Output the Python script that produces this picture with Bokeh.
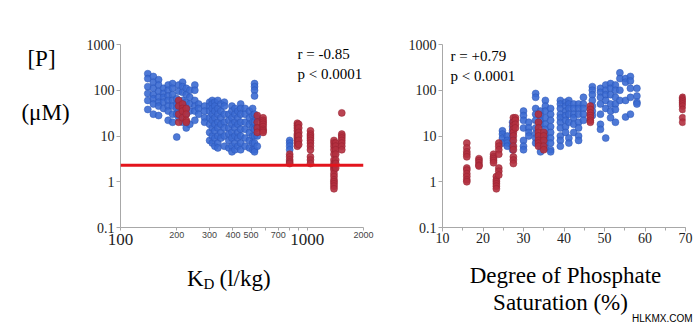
from bokeh.plotting import figure
from bokeh.layouts import row, column
from bokeh.models import (Range1d, FixedTicker, SingleIntervalTicker, CustomJSTickFormatter,
                          Span, Label, LogAxis)
from bokeh.embed import file_html
from bokeh.resources import INLINE

# ---------------- data ----------------
# Left panel: K_D (l/kg) vs [P] (uM); each x column with its y values
kd_blue_cols = [140, 150, 160, 170, 180, 190, 200, 205, 215, 225, 235, 250, 262, 282,
                300, 310, 320, 332, 345, 360, 380, 395, 410, 425, 440, 465, 490, 510,
                522, 540, 805]
p_blue_cols = [
    [230, 180, 120, 85, 60, 38],
    [200, 150, 110, 80, 65, 50, 30],
    [170, 130, 95, 70, 55, 45, 28],
    [110, 85, 70, 55, 40],
    [130, 100, 75, 60, 45, 35, 22],
    [140, 110, 80, 60, 45, 30, 20],
    [65, 50, 40, 30, 9.5],
    [130, 95, 55, 35, 25],
    [150, 120, 90, 60, 45, 30, 20],
    [110, 80, 55, 40, 30, 15],
    [100, 70, 50, 35, 18],
    [130, 100, 60, 45, 35, 22],
    [50, 40, 30],
    [45, 35, 25, 20],
    [55, 45, 35, 25, 18, 12, 8],
    [60, 50, 40, 30, 22, 15, 10, 7],
    [55, 45, 35, 25, 18, 13, 9, 6],
    [60, 40, 30, 20, 15, 10, 7, 5.5],
    [50, 35, 25, 18, 12, 9],
    [55, 45, 30, 20, 15, 10, 6],
    [30, 22, 15, 11, 8, 5.5],
    [45, 35, 25, 18, 12, 9, 6, 4.5],
    [40, 30, 20, 15, 10, 7, 5],
    [35, 25, 18, 12, 9, 6],
    [50, 40, 30, 20, 14, 10, 7, 5],
    [40, 30, 20, 14, 9, 6],
    [35, 25, 18, 12, 8, 5.5],
    [40, 28, 20, 15, 10, 7, 5],
    [140, 120, 100, 75, 30, 20, 14, 10, 7, 5, 4.5],
    [25, 15, 10, 6],
    [8, 7, 6, 5],
]
kd_red_cols = [205, 215, 225, 540, 580, 805, 885, 900, 1040, 1390, 1420, 1530]
p_red_cols = [
    [60, 45, 30, 20],
    [50, 40, 35, 25],
    [40, 30, 22, 20],
    [28, 20, 15, 12],
    [25, 22, 20, 18, 16, 14, 13, 12],
    [4, 3.5, 3, 2.7, 2.5],
    [19, 17, 15, 13, 11, 10, 9, 8, 7, 6],
    [18, 15, 12, 10, 8, 6.5],
    [13, 11, 10, 9, 8, 7, 6, 5, 3.5, 3, 2.5],
    [8, 7, 6, 5, 4, 3, 2.5, 2.2, 2, 1.8, 1.5, 1.3, 1.1, 1, 0.9, 0.8, 0.7],
    [7, 6, 5, 4, 3, 2.5, 2],
    [32, 11, 10, 9, 8, 7, 6, 5],
]
p_threshold = 2.3

# Right panel: Degree of Phosphate Saturation (%) vs [P] (uM)
dps_blue_cols = [24.8, 26, 27.3, 30, 31.3, 33, 34.2, 35.4, 36.7, 39.1, 40.4, 41.2, 42.4,
                 43.6, 44.8, 47, 49, 50.3, 51.5, 52.7, 53.8, 55.2, 56.4, 58]
p2_blue_cols = [
    [13, 11, 9, 7],
    [10, 8, 7, 6],
    [20, 16, 13, 11, 9, 7, 6, 5],
    [35, 28, 22, 15, 8, 6, 5],
    [20, 15, 12, 10],
    [85, 70, 40, 30, 22, 15, 11, 9, 7],
    [35, 28, 22, 18, 10, 8, 6, 4.5],
    [60, 45, 35, 25, 18, 14, 11, 9, 7, 5.5],
    [40, 30, 22, 16, 12, 9, 7, 5, 4.5],
    [60, 50, 40, 30, 25, 20, 15, 10, 8, 6],
    [55, 45, 35, 28, 22, 16, 12],
    [60, 50, 40, 30, 20, 9, 7],
    [50, 40, 30, 25, 18, 12],
    [50, 40, 30, 20, 15, 10, 8],
    [70, 50, 40, 30, 22],
    [120, 100, 80, 60, 45, 35, 28],
    [110, 90, 70, 50, 30, 18, 14],
    [130, 100, 80, 60, 40, 9],
    [140, 110, 80, 50, 35, 25],
    [130, 100, 70, 50, 38, 20],
    [240, 180, 100, 60],
    [180, 150, 60, 26],
    [200, 160, 110, 70, 30],
    [110, 75, 55, 50],
]
dps_red_cols = [16, 19, 22.6, 23.3, 23.9, 27.5, 28, 33.7, 35, 46.5, 69.3]
p2_red_cols = [
    [7, 5.5, 4.5, 4, 3.5, 2, 1.8, 1.5, 1.3, 1.1, 1.0],
    [3.2, 2.9, 2.6, 2.3, 2.2],
    [4, 3.5, 3.2, 2.9, 2.6],
    [1.3, 1.1, 1, 0.9, 0.8, 0.7],
    [7, 6, 5, 4, 2, 1.7, 1.4],
    [25, 20, 17, 14, 12, 10, 8, 6, 5, 3.5, 3, 2.5],
    [25, 22, 18, 15],
    [30, 20, 15, 12, 10, 8, 7, 6],
    [12, 10, 8, 6, 5],
    [45, 38, 32, 28, 25, 22, 20],
    [70, 65, 60, 55, 50, 45, 38, 25, 20],
]

y_ticks = [0.1, 1, 10, 100, 1000]
kd_big_labels = [100, 1000]
kd_small_labels = [200, 300, 400, 500, 700, 2000]
kd_other_ticks = [100, 600, 800, 900, 1000]


def expand(xcols, ycols):
    xs, ys = [], []
    for x, col in zip(xcols, ycols):
        for y in col:
            xs.append(x)
            ys.append(y)
    return xs, ys


kd_blue, p_blue = expand(kd_blue_cols, p_blue_cols)
kd_red, p_red = expand(kd_red_cols, p_red_cols)
dps_blue, p2_blue = expand(dps_blue_cols, p2_blue_cols)
dps_red, p2_red = expand(dps_red_cols, p2_red_cols)

SERIF = "Liberation Serif"
SANS = "Liberation Sans"
BLUE, BLUE_EDGE = "#3b6ad2", "#2b55b5"
RED, RED_EDGE = "#b3303f", "#93202e"
AXIS = "#a8a8a8"
TXT = "#222222"
TOP_H = 255
FRAME_TOP, FRAME_BOTTOM = 44, 229
W_TEXT = 80


def blank(w, h, x0, x1, y0, y1):
    f = figure(width=w, height=h, x_range=Range1d(x0, x1), y_range=Range1d(y0, y1),
               title=None, min_border=0, x_axis_location=None, y_axis_location=None,
               output_backend="svg", toolbar_location=None)
    f.xgrid.visible = False
    f.ygrid.visible = False
    f.outline_line_color = None
    f.background_fill_color = "white"
    f.border_fill_color = "white"
    return f


def txt(f, x, y, s, size, align="left", baseline="middle", font=SERIF, color="black"):
    f.add_layout(Label(x=x, y=y, text=s, text_align=align, text_baseline=baseline,
                       text_font=font, text_font_size=size, text_color=color))


def base_style(p):
    p.xgrid.visible = False
    p.ygrid.visible = False
    p.outline_line_color = None
    p.background_fill_color = "white"
    p.border_fill_color = "white"
    for ax in (p.xaxis, p.yaxis):
        ax.axis_line_color = AXIS
        ax.major_tick_line_color = AXIS
        ax.minor_tick_line_color = AXIS
        ax.major_tick_in = 0
        ax.minor_tick_in = 0
        ax.major_label_text_color = TXT
        ax.major_label_text_font = SERIF
    p.yaxis.ticker = FixedTicker(ticks=y_ticks, minor_ticks=[])
    p.yaxis.formatter = CustomJSTickFormatter(code="return String(Math.round(tick*10)/10)")
    p.yaxis.major_tick_out = 4
    p.yaxis.major_label_standoff = 2
    p.yaxis.major_label_text_font_size = "14px"


def dots(p, xs, ys, fill, edge):
    p.scatter(xs, ys, size=7, fill_color=fill, line_color=edge, line_width=0.6,
              fill_alpha=0.9, line_alpha=0.8)


def screen_label(p, x, y, s):
    p.add_layout(Label(x=x, y=y, x_units="screen", y_units="screen", text=s,
                       text_align="left", text_baseline="middle", text_font=SERIF,
                       text_font_size="15px", text_color="black"))


# ---------------- left panel ----------------
left = figure(width=300, height=TOP_H, x_axis_type="log", y_axis_type="log",
              x_range=Range1d(100, 2000), y_range=Range1d(0.1, 1000), title=None,
              min_border_left=40, min_border_right=17, min_border_top=FRAME_TOP,
              min_border_bottom=TOP_H - FRAME_BOTTOM, output_backend="svg",
              toolbar_location=None)
base_style(left)
# nearest axis: small tick labels, all tick marks
left.xaxis.ticker = FixedTicker(ticks=kd_small_labels, minor_ticks=kd_other_ticks)
left.xaxis.formatter = CustomJSTickFormatter(code="return String(Math.round(tick))")
left.xaxis.major_label_text_font = SANS
left.xaxis.major_label_text_font_size = "9px"
left.xaxis.major_label_text_color = "#444444"
left.xaxis.major_tick_out = 3
left.xaxis.minor_tick_out = 3
left.xaxis.major_label_standoff = 1
# second axis: the large 100 / 1000 labels
big_axis = LogAxis(ticker=FixedTicker(ticks=kd_big_labels, minor_ticks=[]),
                   formatter=CustomJSTickFormatter(code="return String(Math.round(tick))"),
                   axis_line_color=None, major_tick_line_color=None, minor_tick_line_color=None,
                   major_label_text_font=SERIF, major_label_text_font_size="17px",
                   major_label_text_color=TXT, major_label_standoff=-13)
left.add_layout(big_axis, "below")

dots(left, kd_blue, p_blue, BLUE, BLUE_EDGE)
dots(left, kd_red, p_red, RED, RED_EDGE)
left.add_layout(Span(location=p_threshold, dimension="width", line_color="#e3141c", line_width=3))
screen_label(left, 177, 174, "r = -0.85")
screen_label(left, 177, 154, "p < 0.0001")

# ---------------- right panel ----------------
right = figure(width=320, height=TOP_H, y_axis_type="log",
               x_range=Range1d(10, 70), y_range=Range1d(0.1, 1000), title=None,
               min_border_left=62, min_border_right=15, min_border_top=FRAME_TOP,
               min_border_bottom=TOP_H - 227, output_backend="svg", toolbar_location=None)
base_style(right)
right.xaxis.ticker = SingleIntervalTicker(interval=10, num_minor_ticks=2)
right.xaxis.major_label_text_font_size = "14px"
right.xaxis.major_tick_out = 4
right.xaxis.minor_tick_out = 3
right.xaxis.major_label_standoff = 1

dots(right, dps_blue, p2_blue, BLUE, BLUE_EDGE)
dots(right, dps_red, p2_red, RED, RED_EDGE)
screen_label(right, 8, 172, "r = +0.79")
screen_label(right, 8, 152, "p < 0.0001")

# ---------------- text areas (canvas pixel coordinates, y downwards) ----------------
# this blank plot's frame gets aligned with the left panel's frame (rows align frames)
text_left = blank(W_TEXT, TOP_H, 0, W_TEXT, FRAME_BOTTOM, FRAME_TOP)
txt(text_left, 41, 58, "[P]", "23px", align="center")
txt(text_left, 45, 113, "(\u03bcM)", "23px", align="center")

bottom_left = blank(380, 327 - TOP_H, 0, 380, 327, TOP_H)
txt(bottom_left, 203, 278, "K", "23px", align="right", baseline="alphabetic")
txt(bottom_left, 203, 283, "D", "15px", align="left", baseline="alphabetic")
txt(bottom_left, 219, 278, "(l/kg)", "23px", align="left", baseline="alphabetic")

bottom_right = blank(320, 327 - TOP_H, 380, 700, 327, TOP_H)
txt(bottom_right, 565, 275, "Degree of Phosphate", "23px", align="center")
txt(bottom_right, 560, 302, "Saturation (%)", "23px", align="center")
txt(bottom_right, 692, 318, "HLKMX.COM", "10px", align="right", font=SANS)

layout = column(row(text_left, left, right), row(bottom_left, bottom_right))
open("out.html", "w").write(file_html(layout, INLINE))
